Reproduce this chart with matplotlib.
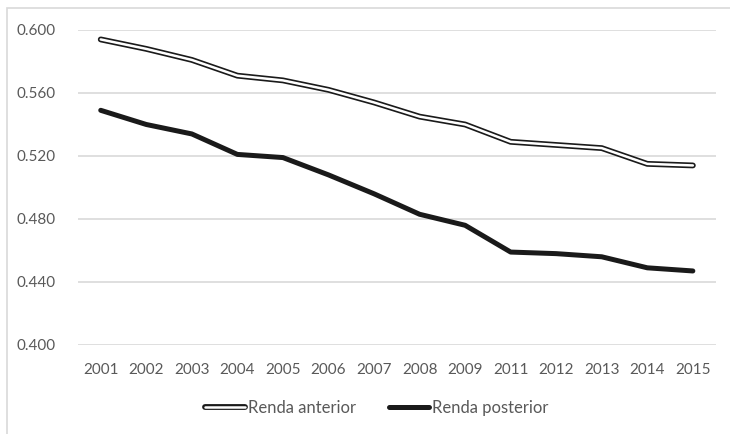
import matplotlib
matplotlib.use("Agg")
import matplotlib.pyplot as plt
from matplotlib.patches import Rectangle
from matplotlib.lines import Line2D
import matplotlib.patheffects as pe

# dados
anos = ["2001", "2002", "2003", "2004", "2005", "2006", "2007",
        "2008", "2009", "2011", "2012", "2013", "2014", "2015"]
renda_anterior = [0.594, 0.588, 0.581, 0.571, 0.568, 0.562, 0.554,
                  0.545, 0.540, 0.529, 0.527, 0.525, 0.515, 0.514]
renda_posterior = [0.549, 0.540, 0.534, 0.521, 0.519, 0.508, 0.496,
                   0.483, 0.476, 0.459, 0.458, 0.456, 0.449, 0.447]
yticks = [0.400, 0.440, 0.480, 0.520, 0.560, 0.600]

cinza_txt = "#595959"
cinza_grade = "#d9d9d9"
plt.rcParams["font.family"] = ["Lato", "DejaVu Sans"]

fig = plt.figure(figsize=(7.3, 4.34), dpi=100)
ax = fig.add_axes([0.1068, 0.2051, 0.8735, 0.7258])

# moldura do grafico (cortada a direita e embaixo)
fig.patches.append(Rectangle((7 / 730, -0.1), 1.2, 1 - 8 / 434 + 0.1,
                             transform=fig.transFigure, fill=False,
                             edgecolor=cinza_grade, linewidth=1.2))

x = list(range(len(anos)))

# linha dupla (contorno preto com miolo branco)
ax.plot(x, renda_anterior, color="#1a1a1a", lw=4.2, solid_capstyle="round",
        solid_joinstyle="round", zorder=3)
ax.plot(x, renda_anterior, color="white", lw=1.8, solid_capstyle="round",
        solid_joinstyle="round", zorder=4)
ax.plot(x, renda_posterior, color="#1a1a1a", lw=3.6, solid_capstyle="round",
        solid_joinstyle="round", zorder=3)

ax.set_xlim(-0.5, len(anos) - 0.5)
ax.set_ylim(0.400, 0.600)
ax.set_yticks(yticks)
ax.set_yticklabels([f"{v:.3f}" for v in yticks])
ax.set_xticks(x)
ax.set_xticklabels(anos)
ax.tick_params(axis="both", length=0, labelsize=11, labelcolor=cinza_txt)
ax.tick_params(axis="y", pad=16)
ax.tick_params(axis="x", pad=13)
ax.grid(axis="y", color=cinza_grade, lw=1.2)
ax.set_axisbelow(True)
for s in ax.spines.values():
    s.set_visible(False)

# legenda com amostras desenhadas igual as linhas
h1 = Line2D([], [], color="white", lw=1.8, solid_capstyle="round",
            path_effects=[pe.Stroke(linewidth=4.2, foreground="#1a1a1a"), pe.Normal()])
h2 = Line2D([], [], color="#1a1a1a", lw=3.6, solid_capstyle="round")
fig.legend([h1, h2], ["Renda anterior", "Renda posterior"],
           loc="center", bbox_to_anchor=(0.516, 0.06), ncol=2, frameon=False,
           fontsize=12, labelcolor=cinza_txt, handlelength=2.4,
           handletextpad=0.15, columnspacing=2.0)

fig.savefig("out.png", dpi=100)
